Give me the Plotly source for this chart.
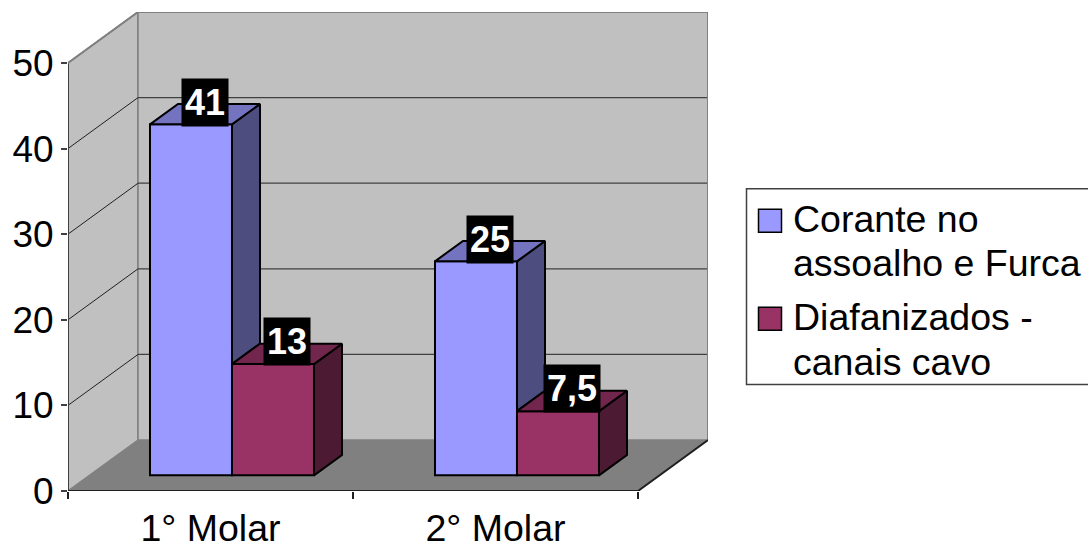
import plotly.graph_objects as go

categories = ["1° Molar", "2° Molar"]
series_names = ["Corante no assoalho e Furca", "Diafanizados - canais cavo"]
legend_lines = [["Corante no", "assoalho e Furca"], ["Diafanizados -", "canais cavo"]]
series_a = [41, 25]
series_b = [13, 7.5]
labels_a = ["41", "25"]
labels_b = ["13", "7,5"]
y_ticks = [0, 10, 20, 30, 40, 50]

FRONT_A, SIDE_A, TOP_A = "#9999ff", "#4d4d80", "#7373bf"
FRONT_B, SIDE_B, TOP_B = "#993366", "#4d1a33", "#73264d"
WALL, FLOOR, EDGE = "#c0c0c0", "#808080", "#808080"
FONT = "Liberation Sans, Arial, sans-serif"

# Chart geometry in axis units (1 category = 285 px, 1 y unit = 8.57 px)
PX_X, PX_Y = 285.0, 8.57
DX, DY = 70 / PX_X, 51 / PX_Y        # oblique offset of the back wall
D0, D1 = 0.307, 0.707                # bar depth range (fraction of the box)
BAR_W = 82 / PX_X
X0, X1 = -0.5, 1.5
Y_MAX = 50

left, right, top_px, bottom = 68, 708, 12, 491.5


def px(x):
    return (x - left) / (right - left)


def py(y):
    return (bottom - y) / (bottom - top_px)


def pr(x, y, d):
    """Oblique projection of a (x, value, depth) point to axis coordinates."""
    return x + d * DX, y + d * DY


def poly(points):
    xs, ys = zip(*[pr(*p) for p in points])
    return list(xs) + [xs[0]], list(ys) + [ys[0]]


def path(points):
    xs, ys = poly(points)
    return "M" + "L".join(f"{a},{b}" for a, b in zip(xs[:-1], ys[:-1])) + "Z"


fig = go.Figure()
shapes = []

# walls and floor
shapes.append(dict(type="path", path=path([(X0, 0, 0), (X0, Y_MAX, 0), (X0, Y_MAX, 1), (X0, 0, 1)]),
                   fillcolor=WALL, line=dict(color=EDGE, width=1.5), layer="below"))
shapes.append(dict(type="path", path=path([(X0, 0, 1), (X0, Y_MAX, 1), (X1, Y_MAX, 1), (X1, 0, 1)]),
                   fillcolor=WALL, line=dict(color=EDGE, width=1.5), layer="below"))
shapes.append(dict(type="path", path=path([(X0, 0, 0), (X1, 0, 0), (X1, 0, 1), (X0, 0, 1)]),
                   fillcolor=FLOOR, line=dict(width=0), layer="below"))
for t in y_ticks[1:-1]:
    a, b, c = pr(X0, t, 0), pr(X0, t, 1), pr(X1, t, 1)
    shapes.append(dict(type="line", x0=a[0], y0=a[1], x1=b[0], y1=b[1],
                       line=dict(color="#202020", width=1), layer="below"))
    shapes.append(dict(type="line", x0=b[0], y0=b[1], x1=c[0], y1=c[1],
                       line=dict(color="#404040", width=1.3), layer="below"))

# legend: line spacing and swatch size differ from what a native legend can draw
shapes.append(dict(type="rect", xref="paper", yref="paper",
                   x0=px(746.5), x1=px(1095), y0=py(385), y1=py(189),
                   fillcolor="white", line=dict(color="#404040", width=1.5), layer="above"))
for yc, col in [(221, FRONT_A), (319, FRONT_B)]:
    shapes.append(dict(type="rect", xref="paper", yref="paper",
                       x0=px(758.5), x1=px(781.5), y0=py(yc + 11.5), y1=py(yc - 11.5),
                       fillcolor=col, line=dict(color="black", width=1.5), layer="above"))
fig.update_layout(shapes=shapes)

base = D0 * DY
groups = [(series_a, -BAR_W / 2, FRONT_A, SIDE_A, TOP_A, series_names[0]),
          (series_b, BAR_W / 2, FRONT_B, SIDE_B, TOP_B, series_names[1])]

for vals, off, front, side, top, name in groups:
    fig.add_trace(go.Bar(
        x=[i + off + D0 * DX for i in range(len(vals))], y=vals, base=[base] * len(vals),
        width=BAR_W, name=name, marker=dict(color=front, line=dict(color="black", width=2)),
        showlegend=False, hoverinfo="skip"))

for k, (vals, off, front, side, top, name) in enumerate(groups):
    for i, v in enumerate(vals):
        xl, xr = i + off - BAR_W / 2, i + off + BAR_W / 2
        # the lower part of the blue side face is hidden by the neighbouring bar
        low = series_b[i] if k == 0 else 0
        sx, sy = poly([(xr, low, D0), (xr, v, D0), (xr, v, D1), (xr, low, D1)])
        fig.add_trace(go.Scatter(x=sx, y=sy, mode="lines", fill="toself", fillcolor=side,
                                 line=dict(color="black", width=2), showlegend=False, hoverinfo="skip"))
        tx, ty = poly([(xl, v, D0), (xr, v, D0), (xr, v, D1), (xl, v, D1)])
        fig.add_trace(go.Scatter(x=tx, y=ty, mode="lines", fill="toself", fillcolor=top,
                                 line=dict(color="black", width=2), showlegend=False, hoverinfo="skip"))

# axis lines
lines = [
    ([pr(X0, 0, 0), pr(X0, Y_MAX, 0)], "#404040", 2),
    ([pr(X0, Y_MAX, 0), pr(X0, Y_MAX, 1), pr(X1, Y_MAX, 1), pr(X1, 0, 1)], EDGE, 2),
    ([pr(X0, 0, 0), pr(X1, 0, 0), pr(X1, 0, 1)], "#202020", 2),
]
for pts, col, w in lines:
    fig.add_trace(go.Scatter(x=[p[0] for p in pts], y=[p[1] for p in pts], mode="lines",
                             line=dict(color=col, width=w), cliponaxis=False,
                             showlegend=False, hoverinfo="skip"))

# data labels
ann = []
for vals, off, texts in [(series_a, -BAR_W / 2, labels_a), (series_b, BAR_W / 2, labels_b)]:
    for i, (v, s) in enumerate(zip(vals, texts)):
        ax, ay = pr(i + off, v, (D0 + D1) / 2)
        ann.append(dict(x=ax, y=ay, text=s, showarrow=False, yshift=12, xanchor="center", yanchor="middle",
                        bgcolor="black", borderpad=3,
                        font=dict(family=FONT, size=36, color="white", weight="bold")))

# legend text, one annotation per line
legend_y = [219.5, 263.5, 317.5, 362]
flat_lines = [t for group in legend_lines for t in group]
for t, yc in zip(flat_lines, legend_y):
    ann.append(dict(x=px(793), y=py(yc), xref="paper", yref="paper", text=t, showarrow=False,
                    xanchor="left", yanchor="middle", borderpad=0, xshift=-1,
                    font=dict(family=FONT, size=37.5, color="black")))
fig.update_layout(annotations=ann)

fig.update_layout(
    width=1088, height=547, barmode="overlay", paper_bgcolor="white", plot_bgcolor="white",
    showlegend=False,
    margin=dict(l=left, r=1088 - right, t=top_px, b=547 - bottom, pad=0, autoexpand=False),
    font=dict(family=FONT, color="black"),
    xaxis=dict(range=[X0, X0 + (right - left) / PX_X], tickmode="array",
               tickvals=list(range(len(categories))), ticktext=categories, ticks="", showgrid=False,
               zeroline=False, showline=False, tickfont=dict(size=37.5), ticklabelstandoff=11,
               minor=dict(tickmode="array", tickvals=[-0.5, 0.5, 1.5], ticks="outside", ticklen=7,
                          tickwidth=1.5, tickcolor="#202020", showgrid=False)),
    yaxis=dict(range=[0, (bottom - top_px) / PX_Y], tickmode="array", tickvals=y_ticks,
               ticks="outside", ticklen=6, tickwidth=1.5, tickcolor="#404040", showgrid=False,
               zeroline=False, showline=False, tickfont=dict(size=37)),
)
fig.write_html("out.html", config=dict(displayModeBar=False),
               post_script="document.body.style.margin='0';")
